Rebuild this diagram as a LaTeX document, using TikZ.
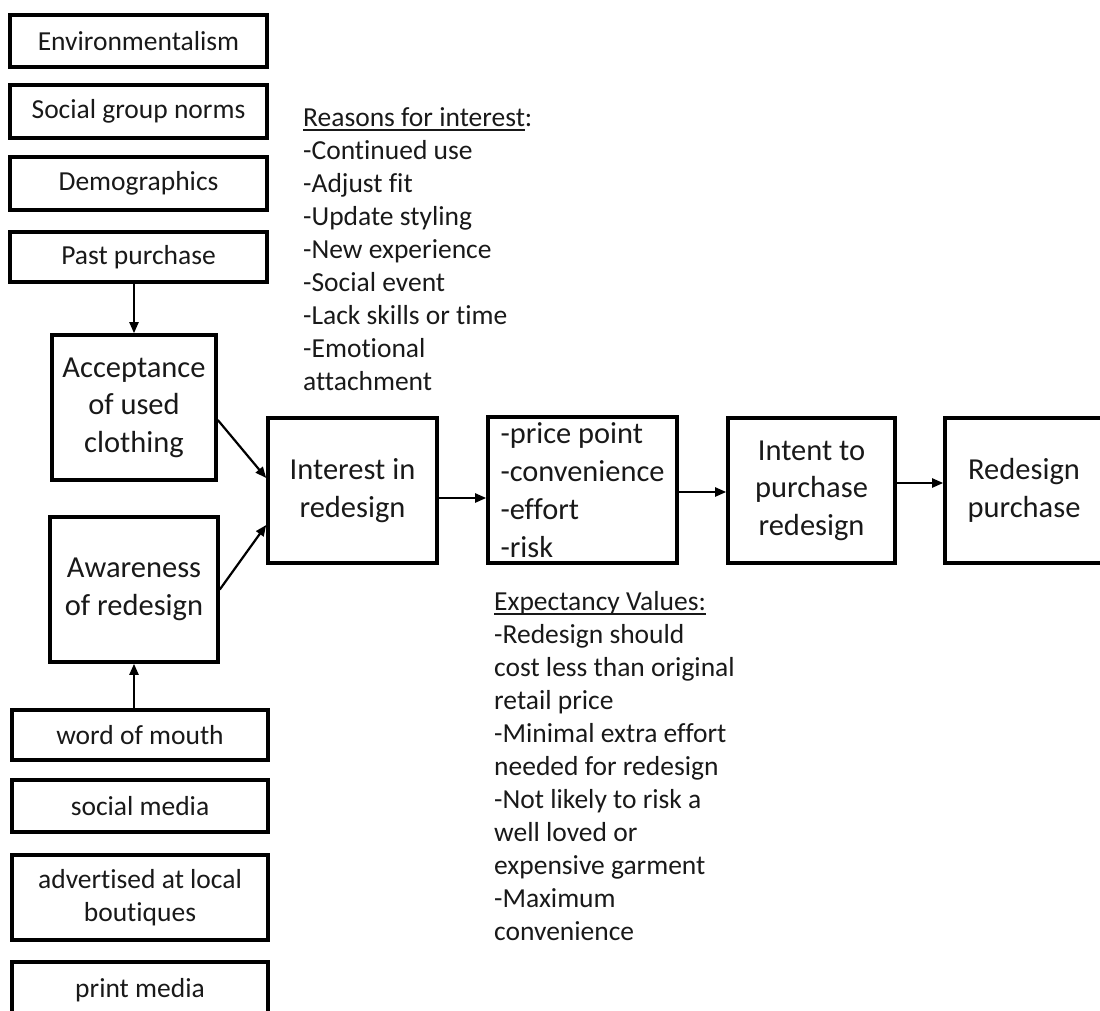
\documentclass[tikz,border=0pt]{standalone}
\usepackage{fontspec}
\setmainfont{Carlito}[Ligatures=NoCommon]
\usetikzlibrary{arrows.meta}
% underline drawn just below the baseline, crossing descenders
\newcommand\headul[1]{\setbox0\hbox{#1}\rlap{\rule[-4.5pt]{\wd0}{1.4pt}}\box0}
\begin{document}
\begin{tikzpicture}[x=1pt,y=-1pt,
  box/.style={draw, line width=3.6pt, inner sep=0pt, align=center, text=black!90},
  smallbox/.style={box, minimum width=257pt, font=\fontsize{27.5}{33}\selectfont},
  bigbox/.style={box, minimum height=145pt, font=\fontsize{30.5}{37.5}\selectfont},
  note/.style={anchor=north west, inner sep=0pt, align=left, text=black!90,
    font=\fontsize{27.5}{33}\selectfont},
  arr/.style={line width=2.2pt, -{Triangle[length=11pt,width=9pt]}}]
\useasboundingbox (0,0) rectangle (1100,1011);
\begin{scope}
\clip (0,0) rectangle (1100,1011);

% influences on acceptance
\node[smallbox, minimum height=52pt] (env)   at (138.5,41)    {Environmentalism};
\node[smallbox, minimum height=53pt] (norms) at (138.5,111.5) {Social group norms};
\node[smallbox, minimum height=53pt] (demo)  at (138.5,183.5) {Demographics};
\node[smallbox, minimum height=50pt] (past)  at (138.5,257)   {Past purchase};

\node[bigbox, minimum width=164pt] (accept) at (134,407.5) {Acceptance\\of used\\clothing};
\node[bigbox, minimum width=168pt] (aware)  at (134,589.5) {Awareness\\of redesign};

% channels of awareness
\node[smallbox, minimum width=256pt, minimum height=50pt] (mouth)    at (140,735)   {word of mouth};
\node[smallbox, minimum width=256pt, minimum height=52pt] (social)   at (140,806)   {social media};
\node[smallbox, minimum width=256pt, minimum height=85pt] (boutique) at (140,897.5) {advertised at local\\boutiques};
\node[smallbox, minimum width=256pt, minimum height=56pt] (print)    at (140,990)   {print media};

% main chain
\node[bigbox, minimum width=169pt] (interest) at (352.5,490.5) {Interest in\\redesign};
\node[box, minimum width=189pt, minimum height=146pt, align=left,
      font=\fontsize{30.4}{38}\selectfont] (factors) at (582.5,490)
      {-price point\\-convenience\\-effort\\-risk};
\node[bigbox, minimum width=167pt] (intent) at (811.5,490.5) {Intent to\\purchase\\redesign};
\node[bigbox, minimum width=158pt] (buy)    at (1024,490.5)  {Redesign\\purchase};

% notes
\node[note] (reasons) at (303,107) {\headul{Reasons for interest}:\\-Continued use\\-Adjust fit\\-Update styling\\-New experience\\-Social event\\-Lack skills or time\\-Emotional\\attachment};
\node[note] (expect) at (494,591) {\headul{Expectancy Values:}\\-Redesign should\\cost less than original\\retail price\\-Minimal extra effort\\needed for redesign\\-Not likely to risk a\\well loved or\\expensive garment\\-Maximum\\convenience};

% connectors
\draw[arr] (accept.north |- past.south) -- (accept.north);
\draw[arr] (aware.south |- mouth.north) -- (aware.south);
\draw[arr] ([yshift=-12.5pt]accept.east) -- ([yshift=12.5pt]interest.west);
\draw[arr] (aware.east) -- ([yshift=-34.5pt]interest.west);
\draw[arr] ([yshift=-7.5pt]interest.east) -- ([yshift=-7.5pt]interest.east -| factors.west);
\draw[arr] ([yshift=-2pt]factors.east) -- ([yshift=-2pt]factors.east -| intent.west);
\draw[arr] ([yshift=7.5pt]intent.east) -- ([yshift=7.5pt]intent.east -| buy.west);
\end{scope}
\end{tikzpicture}
\end{document}
